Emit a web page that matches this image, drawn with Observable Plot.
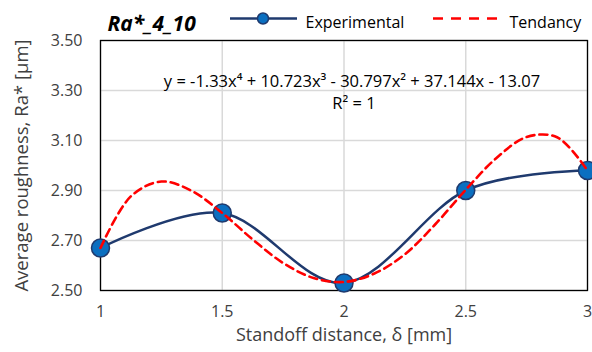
<!DOCTYPE html>
<html>
<head>
<meta charset="utf-8">
<script src="https://cdn.jsdelivr.net/npm/d3@7"></script>
<script src="https://cdn.jsdelivr.net/npm/@observablehq/plot@0.6"></script>
<style>
  html, body { margin: 0; padding: 0; background: #fff; }
  #chart svg { display: block; }
</style>
</head>
<body>
<div id="chart"></div>
<script>
// Experimental measurements
const distances = [1, 1.5, 2, 2.5, 3];
const roughness = [2.67, 2.81, 2.53, 2.90, 2.98];

// Tendancy curve
const tendX = [1, 1.125, 1.25, 1.375, 1.5, 1.625, 1.75, 1.875, 2, 2.125, 2.25, 2.375, 2.5, 2.625, 2.75, 2.875, 3];
const tendY = [2.67, 2.877, 2.936, 2.898, 2.81, 2.704, 2.61, 2.55, 2.534, 2.568, 2.645, 2.765, 2.903, 3.029, 3.114, 3.113, 2.98];

const xTicks = [1, 1.5, 2, 2.5, 3];
const yTicks = [2.5, 2.7, 2.9, 3.1, 3.3, 3.5];

const titleText = "Ra*_4_10";
const seriesNames = ["Experimental", "Tendancy"];
const equationText = "y = -1.33x⁴ + 10.723x³ - 30.797x² + 37.144x - 13.07";
const r2Text = "R² = 1";
const xLabel = "Standoff distance, δ [mm]";
const yLabel = "Average roughness, Ra* [µm]";

const expData = distances.map((d, i) => ({x: d, y: roughness[i]}));
const tendData = tendX.map((d, i) => ({x: d, y: tendY[i]}));

const FONT = "Open Sans, sans-serif";
const NAVY = "#1f3a6e";
const BLUE = "#0b6fc0";
const RED = "#ff0000";
const TEXT = "#404040";

const plot = Plot.plot({
  width: 592,
  height: 352,
  marginLeft: 100,
  marginRight: 5,
  marginTop: 40,
  marginBottom: 62,
  style: {fontFamily: FONT, fontSize: "16px", color: TEXT, background: "#fff"},
  x: {domain: [1, 3]},
  y: {domain: [2.5, 3.5]},
  marks: [
    Plot.gridY(yTicks, {stroke: "#d9d9d9", strokeOpacity: 1, strokeWidth: 1.5}),
    Plot.gridX(xTicks, {stroke: "#d9d9d9", strokeOpacity: 1, strokeWidth: 1.5}),
    Plot.frame({stroke: "#000", strokeWidth: 1.3}),
    Plot.axisX({ticks: xTicks, tickSize: 0, tickPadding: 15, label: null, tickFormat: d => String(d), fontSize: 16, fill: TEXT}),
    Plot.axisY({ticks: yTicks, tickSize: 0, tickPadding: 18, label: null, tickFormat: d3.format(".2f"), fontSize: 16, fill: TEXT}),
    Plot.line(expData, {x: "x", y: "y", stroke: NAVY, strokeWidth: 2.5, curve: d3.curveCardinal.tension(0)}),
    Plot.dot(expData, {x: "x", y: "y", r: 9, fill: BLUE, stroke: NAVY, strokeWidth: 1.5}),
    Plot.line(tendData, {x: "x", y: "y", stroke: RED, strokeWidth: 2.6, strokeDasharray: "8,5", curve: "catmull-rom"}),
    Plot.text([equationText], {frameAnchor: "top", dx: 8, dy: 35, fontSize: 16.5, fill: "#000", text: d => d}),
    Plot.text([r2Text], {frameAnchor: "top", dx: 10, dy: 57, fontSize: 16.5, fill: "#000", text: d => d}),
    Plot.text([xLabel], {frameAnchor: "bottom", dy: 50, fontSize: 18, fill: TEXT, text: d => d}),
    Plot.text([yLabel], {frameAnchor: "left", textAnchor: "middle", dx: -78, rotate: -90, fontSize: 18.5, fill: TEXT, text: d => d}),
    Plot.text([titleText], {frameAnchor: "top-left", textAnchor: "start", dx: 7, dy: -24, fontSize: 21, fontWeight: "bold", fontStyle: "italic", fill: "#000", text: d => d}),
    Plot.text([seriesNames[0]], {frameAnchor: "top-left", textAnchor: "start", dx: 205, dy: -24, fontSize: 16, fill: "#000", text: d => d}),
    Plot.text([seriesNames[1]], {frameAnchor: "top-left", textAnchor: "start", dx: 409, dy: -24, fontSize: 16, fill: "#000", text: d => d})
  ]
});

// legend sample glyphs
const svg = d3.select(plot);
const g = svg.append("g");
g.append("line").attr("x1", 230).attr("x2", 297).attr("y1", 18.5).attr("y2", 18.5)
  .attr("stroke", NAVY).attr("stroke-width", 2.5);
g.append("circle").attr("cx", 263).attr("cy", 18.5).attr("r", 5.5)
  .attr("fill", BLUE).attr("stroke", NAVY).attr("stroke-width", 1.5);
g.append("line").attr("x1", 433).attr("x2", 497).attr("y1", 18.5).attr("y2", 18.5)
  .attr("stroke", RED).attr("stroke-width", 2.6).attr("stroke-dasharray", "10,8");

document.getElementById("chart").appendChild(plot);
</script>
</body>
</html>
